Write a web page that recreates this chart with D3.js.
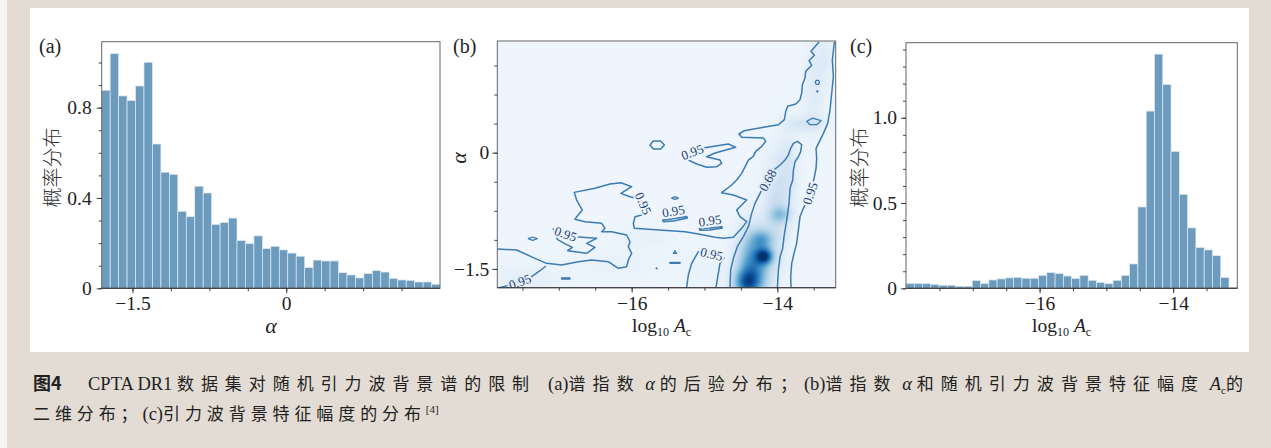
<!DOCTYPE html>
<html><head><meta charset="utf-8">
<script src="https://cdn.jsdelivr.net/npm/d3@7"></script>
<style>
html,body{margin:0;padding:0;background:#e2dcd5;}
svg{display:block;}
</style></head><body>
<svg id="fig" width="1271" height="448"></svg>
<script>
// ---------------- data ----------------
// (a) posterior of the spectral index alpha: 40 equal bins over alphaRange
const alphaRange = [-1.8, 1.5];
const alphaDensity = [0.877,1.039,0.852,0.831,0.896,1.001,0.639,0.514,0.505,0.341,
  0.317,0.452,0.422,0.283,0.292,0.311,0.211,0.198,0.232,0.176,
  0.186,0.170,0.156,0.142,0.092,0.125,0.121,0.121,0.069,0.059,
  0.046,0.065,0.078,0.072,0.044,0.037,0.035,0.028,0.028,0.018];
const alphaTicks = [-1.5, 0];
const alphaTickLabels = ["\u22121.5", "0"];
const alphaMinor = [-1.5,-1.125,-0.75,-0.375,0,0.375,0.75,1.125];
const densATicks = [0, 0.4, 0.8];
const densATickLabels = ["0", "0.4", "0.8"];
const densAMinor = [0,0.1,0.2,0.3,0.4,0.5,0.6,0.7,0.8,0.9,1.0];

// (c) posterior of log10 A_c: 40 equal bins over ampRange
const ampRange = [-18.0, -13.04];
const ampDensity = [0.029,0.029,0.027,0.023,0.018,0.018,0.012,0.012,0.045,0.029,
  0.049,0.055,0.061,0.064,0.059,0.059,0.076,0.092,0.086,0.072,
  0.057,0.076,0.047,0.035,0.027,0.047,0.076,0.143,0.477,1.039,
  1.373,1.195,0.803,0.551,0.354,0.240,0.225,0.191,0.063,0.004];
const ampTicks = [-16, -14];
const ampTickLabels = ["\u221216", "\u221214"];
const ampMinor = [-17.5,-17,-16.5,-16,-15.5,-15,-14.5,-14,-13.5];
const densCTicks = [0, 0.5, 1.0];
const densCTickLabels = ["0", "0.5", "1.0"];
const densCMinor = [0,0.1,0.2,0.3,0.4,0.5,0.6,0.7,0.8,0.9,1.0,1.1,1.2,1.3,1.4];

// (b) joint posterior: density concentrations [log10 A_c, alpha, spreadX, spreadY, weight]
const jointPeaks = [
  [-14.18,-1.34,0.08,0.07,0.70],
  [-14.33,-1.45,0.15,0.30,0.62],
  [-14.43,-1.68,0.12,0.12,0.55],
  [-14.21,-1.12,0.10,0.08,0.30],
  [-13.96,-0.80,0.10,0.07,0.25],
  [-14.02,-0.75,0.12,0.45,0.18],
  [-13.85,-0.20,0.10,0.35,0.10],
  [-13.62, 0.37,0.18,0.07,0.12],
  [-13.50, 0.80,0.10,0.40,0.08],
  [-13.35, 1.25,0.10,0.25,0.07],
  [-17.50,-1.65,0.40,0.15,0.05],
  [-16.20,-1.45,0.40,0.15,0.03],
  [-15.80,-1.10,0.25,0.10,0.035],
  [-15.00,-1.50,0.20,0.20,0.03]
];
const ampTicksB = [-16, -14];
const alphaTicksB = [0, -1.5];
const alphaTickLabelsB = ["0", "\u22121.5"];
const ampMinorB = [-17.5,-17,-16.5,-16,-15.5,-15,-14.5,-14,-13.5];
const alphaMinorB = [-1.5,-1.125,-0.75,-0.375,0,0.375,0.75,1.125];

// credible-region contours (log10 A_c, alpha)
const c95Main = [[-13.427,1.428],[-13.537,1.308],[-13.491,1.256],[-13.564,1.187],[-13.527,1.127],
  [-13.610,1.049],[-13.619,0.963],[-13.656,0.877],[-13.665,0.770],[-13.688,0.684],[-13.747,0.628],
  [-13.857,0.598],[-13.885,0.525],[-13.903,0.426],[-13.985,0.361],[-14.146,0.335],[-14.306,0.310],
  [-14.452,0.284],[-14.526,0.241],[-14.489,0.198],[-14.191,0.189],[-14.159,0.146],[-14.214,0.082],
  [-14.297,0.017],[-14.329,-0.047],[-14.397,-0.095],[-14.489,-0.267],[-14.558,-0.353],[-14.626,-0.417],
  [-14.764,-0.516],[-14.603,-0.546],[-14.420,-0.611],[-14.558,-0.740],[-14.512,-0.826],[-14.420,-0.890],
  [-14.489,-0.976],[-14.603,-1.092],[-14.741,-1.105],[-14.855,-1.092],[-15.084,-1.049],[-15.267,-1.019],
  [-15.473,-1.006],[-15.771,-0.989],[-15.963,-0.976],[-15.977,-0.912],[-15.954,-0.826],[-15.863,-0.804],
  [-15.831,-0.718],[-15.886,-0.602],[-16.023,-0.568],[-16.147,-0.525],[-16.000,-0.439],[-16.147,-0.387],
  [-16.298,-0.404],[-16.504,-0.460],[-16.788,-0.512],[-16.755,-0.611],[-16.678,-0.740],[-16.755,-0.826],
  [-16.778,-0.860],[-16.641,-0.890],[-16.412,-0.912],[-16.366,-0.976],[-16.412,-1.019],[-16.275,-1.019],
  [-16.069,-1.062],[-16.023,-1.148],[-16.046,-1.213],[-16.000,-1.299],[-16.046,-1.385],[-16.069,-1.471],
  [-16.183,-1.492],[-16.321,-1.406],[-16.549,-1.385],[-16.733,-1.406],[-16.962,-1.449],[-17.168,-1.428],
  [-17.328,-1.363],[-17.580,-1.256],[-17.845,-1.243]];
const c95Right = [[-13.216,1.428],[-13.244,1.196],[-13.230,0.981],[-13.253,0.766],[-13.276,0.551],
  [-13.308,0.378],[-13.367,0.249],[-13.422,0.142],[-13.468,0.056],[-13.459,-0.073],[-13.468,-0.202],
  [-13.495,-0.331],[-13.527,-0.439],[-13.596,-0.632],[-13.642,-0.718],[-13.688,-0.826],[-13.711,-0.998],
  [-13.734,-1.170],[-13.770,-1.299],[-13.802,-1.428],[-13.816,-1.600],[-13.811,-1.742]];
const c95Lower = [[-15.245,-1.742],[-15.222,-1.578],[-15.176,-1.428],[-15.084,-1.277],[-14.732,-1.359],
  [-14.787,-1.428],[-14.810,-1.557],[-14.842,-1.742]];
const c95Corner = [[-17.818,-1.742],[-17.694,-1.712],[-17.387,-1.609],[-17.259,-1.523],[-17.177,-1.462]];
const c95Zigzag = [[-17.076,-0.985],[-16.778,-1.084],[-16.481,-1.105],[-16.618,-1.170],[-16.504,-1.222],
  [-16.618,-1.299],[-16.879,-1.265],[-16.815,-1.222],[-16.925,-1.170],[-17.021,-1.118]];
const c95Chevron = [[-15.016,0.060],[-14.672,0.112],[-14.571,0.069],[-14.855,-0.004],[-14.970,-0.052],
  [-14.787,-0.095],[-14.764,-0.138],[-14.832,-0.181],[-14.970,-0.189],[-15.107,-0.146],[-15.222,-0.095],
  [-15.313,-0.043]];
const c95Hexagon = [[-15.748,0.099],[-15.702,0.151],[-15.602,0.151],[-15.551,0.099],[-15.602,0.047],[-15.702,0.047]];
const c95IslandA = [[-15.574,-0.869],[-15.428,-0.852],[-15.245,-0.822],[-15.235,-0.843],[-15.405,-0.877],[-15.565,-0.890]];
const c95IslandB = [[-15.071,-0.981],[-14.924,-0.972],[-14.764,-0.951],[-14.755,-0.972],[-14.924,-0.998],[-15.061,-1.002]];
const c95Small = [
  [[-15.451,-0.585],[-15.405,-0.568],[-15.359,-0.585],[-15.405,-0.602]],
  [[-15.428,-1.299],[-15.405,-1.265],[-15.382,-1.299]],
  [[-15.473,-1.415],[-15.336,-1.415],[-15.336,-1.428],[-15.473,-1.428]],
  [[-15.665,-1.495],[-15.657,-1.486],[-15.649,-1.495]],
  [[-17.419,-1.110],[-17.360,-1.088],[-17.296,-1.110],[-17.360,-1.131]],
  [[-16.962,-1.617],[-16.847,-1.617],[-16.847,-1.630],[-16.962,-1.630]],
  [[-13.480,0.908],[-13.465,0.934],[-13.435,0.934],[-13.420,0.908],[-13.435,0.882],[-13.465,0.882]],
  [[-13.458,0.791],[-13.450,0.800],[-13.442,0.791],[-13.450,0.782]],
  [[-13.596,0.404],[-13.514,0.447],[-13.399,0.413],[-13.459,0.361],[-13.550,0.361]]
];
const c68Inner = [[-14.649,-1.742],[-14.640,-1.514],[-14.603,-1.363],[-14.549,-1.213],[-14.466,-1.084],
  [-14.397,-0.955],[-14.352,-0.783],[-14.306,-0.654],[-14.237,-0.525],[-14.191,-0.439],[-14.077,-0.245],
  [-13.962,-0.159],[-13.894,-0.095],[-13.848,-0.030],[-13.816,0.056],[-13.779,0.120],[-13.724,0.146],
  [-13.665,0.103],[-13.679,0.013],[-13.711,-0.052],[-13.756,-0.116],[-13.779,-0.224],[-13.788,-0.353],
  [-13.825,-0.460],[-13.839,-0.654],[-13.871,-0.869],[-13.908,-1.084],[-13.926,-1.234],[-13.962,-1.342],
  [-13.985,-1.514],[-13.999,-1.742]];
const contourLabels = [
  ["0.95", "main",    -15.840, -0.654],
  ["0.95", "chevron", -15.167,  0.009],
  ["0.95", "lower",   -14.901, -1.308],
  ["0.95", "corner",  -17.534, -1.665],
  ["0.95", "zigzag",  -16.907, -1.049],
  ["0.95", "islandA", -15.428, -0.753],
  ["0.95", "islandB", -14.924, -0.877],
  ["0.95", "right",   -13.550, -0.525],
  ["0.68", "inner",   -14.132, -0.353]
];

// ---------------- drawing ----------------
const serif = "'Liberation Serif','Times New Roman',serif";
const cjk = "'Noto Sans CJK SC','Noto Sans CJK JP',sans-serif";
const ink = "#222";
const barFill = "#6c9bbe";
const svg = d3.select("#fig");

svg.append("rect").attr("width",1271).attr("height",448).attr("fill","#e2dcd5");
svg.append("rect").attr("x",0).attr("y",0).attr("width",7).attr("height",448).attr("fill","#f6f4f1");
svg.append("rect").attr("x",30).attr("y",8).attr("width",1219).attr("height",344).attr("fill","#ffffff");

function styleAxis(g, labelled) {
  g.attr("font-family", null).attr("font-size", null);
  g.select(".domain").remove();
  g.selectAll(".tick line").attr("stroke", "#333").attr("stroke-width", 0.9);
  if (labelled) g.selectAll(".tick text").attr("font-family", serif).attr("font-size", 19.5).attr("fill", ink);
  else g.selectAll(".tick text").remove();
}

function frame(box) {
  svg.append("rect").attr("x",box.x0).attr("y",box.y0).attr("width",box.x1-box.x0).attr("height",box.y1-box.y0)
    .attr("fill","none").attr("stroke","#666").attr("stroke-width",1);
  svg.append("line").attr("x1",box.x0).attr("x2",box.x1).attr("y1",box.y1).attr("y2",box.y1)
    .attr("stroke","#333").attr("stroke-width",1.1);
}

function axesFor(box, x, y, spec) {
  const gx = svg.append("g").attr("transform", `translate(0,${box.y1})`);
  gx.append("g").call(d3.axisBottom(x).tickValues(spec.xMinor).tickSize(3).tickFormat(""))
    .call(g => styleAxis(g, false));
  gx.append("g").call(d3.axisBottom(x).tickValues(spec.xTicks).tickSize(5).tickPadding(3)
    .tickFormat((d, i) => spec.xLabels[i])).call(g => styleAxis(g, true));
  const gy = svg.append("g").attr("transform", `translate(${box.x0},0)`);
  gy.append("g").call(d3.axisLeft(y).tickValues(spec.yMinor).tickSize(3).tickFormat(""))
    .call(g => styleAxis(g, false));
  gy.append("g").call(d3.axisLeft(y).tickValues(spec.yTicks).tickSize(5).tickPadding(spec.yPad)
    .tickFormat((d, i) => spec.yLabels[i])).call(g => styleAxis(g, true));
}

function histogram(box, range, values, yMax) {
  const x = d3.scaleLinear().domain(range).range([box.x0, box.x1]);
  const y = d3.scaleLinear().domain([0, yMax]).range([box.y1, box.y0]);
  const n = values.length, w = (range[1] - range[0]) / n;
  svg.append("g").selectAll("rect").data(values).join("rect")
    .attr("x", (d, i) => x(range[0] + i * w))
    .attr("width", (d, i) => x(range[0] + (i + 1) * w) - x(range[0] + i * w))
    .attr("y", d => y(d))
    .attr("height", d => y(0) - y(d))
    .attr("fill", barFill)
    .attr("stroke", "#dde9f2").attr("stroke-width", 0.7);
  return {x, y};
}

function panelTag(txt, px, py) {
  svg.append("text").attr("x", px).attr("y", py).attr("font-family", serif)
    .attr("font-size", 20).attr("fill", ink).text(txt);
}

function cjkYLabel(cx, cy) {
  svg.append("text").attr("transform", `translate(${cx},${cy}) rotate(-90)`)
    .attr("text-anchor", "middle").attr("dominant-baseline", "central")
    .attr("font-family", cjk).attr("font-weight", 300).attr("font-size", 20).attr("fill", "#333").text("概率分布");
}

function logAcLabel(px, py) {
  const t = svg.append("text").attr("x", px).attr("y", py).attr("font-family", serif)
    .attr("font-size", 19.5).attr("fill", ink);
  t.append("tspan").text("log");
  t.append("tspan").attr("font-size", 12).attr("dy", 4).text("10");
  t.append("tspan").attr("dy", -4).attr("dx", 5).attr("font-style", "italic").text("A");
  t.append("tspan").attr("font-size", 12).attr("dy", 4).text("c");
}

// ---- (a) ----
const boxA = {x0: 101.7, x1: 440, y0: 41.7, y1: 288.3};
const sa = histogram(boxA, alphaRange, alphaDensity, 1.092);
frame(boxA);
axesFor(boxA, sa.x, sa.y, {xTicks: alphaTicks, xLabels: alphaTickLabels, xMinor: alphaMinor.filter(v => v > alphaRange[0] && v < alphaRange[1] - 0.01),
  yTicks: densATicks, yLabels: densATickLabels, yMinor: densAMinor, yPad: 5});
panelTag("(a)", 39, 53);
cjkYLabel(51.7, 167.5);
svg.append("text").attr("x", 271).attr("y", 333).attr("text-anchor", "middle").attr("font-family", serif)
  .attr("font-style", "italic").attr("font-size", 22).attr("fill", ink).text("α");

// ---- (c) ----
const boxC = {x0: 906, x1: 1237.3, y0: 42.7, y1: 288.3};
const sc = histogram(boxC, ampRange, ampDensity, 1.44);
frame(boxC);
axesFor(boxC, sc.x, sc.y, {xTicks: ampTicks, xLabels: ampTickLabels, xMinor: ampMinor,
  yTicks: densCTicks, yLabels: densCTickLabels, yMinor: densCMinor, yPad: 4});
panelTag("(c)", 850, 53);
cjkYLabel(858.3, 167.5);
logAcLabel(1032, 331.5);

// ---- (b) ----
const boxB = {x0: 497.3, x1: 835.7, y0: 41, y1: 287.7};
const xB = d3.scaleLinear().domain([-17.845, -13.198]).range([boxB.x0, boxB.x1]);
const yB = d3.scaleLinear().domain([-1.742, 1.441]).range([boxB.y1, boxB.y0]);

function jointDensity(a, b) {
  let s = 0;
  for (const [px, py, sx, sy, w] of jointPeaks) {
    const dx = (a - px) / sx, dy = (b - py) / sy;
    s += w * Math.exp(-0.5 * (dx * dx + dy * dy));
  }
  return s;
}
const shade = v => d3.interpolateBlues(0.045 + 0.955 * Math.min(1, v));

// density image
const cw = Math.round(boxB.x1 - boxB.x0), ch = Math.round(boxB.y1 - boxB.y0);
const canvas = document.createElement("canvas");
canvas.width = cw; canvas.height = ch;
const ctx = canvas.getContext("2d");
const img = ctx.createImageData(cw, ch);
for (let j = 0; j < ch; j++) {
  const b = yB.invert(boxB.y0 + j + 0.5);
  for (let i = 0; i < cw; i++) {
    const a = xB.invert(boxB.x0 + i + 0.5);
    const c = d3.rgb(shade(jointDensity(a, b)));
    const k = 4 * (j * cw + i);
    img.data[k] = c.r; img.data[k + 1] = c.g; img.data[k + 2] = c.b; img.data[k + 3] = 255;
  }
}
ctx.putImageData(img, 0, 0);
svg.append("clipPath").attr("id", "clipB").append("rect")
  .attr("x", boxB.x0).attr("y", boxB.y0).attr("width", boxB.x1 - boxB.x0).attr("height", boxB.y1 - boxB.y0);
const gB = svg.append("g").attr("clip-path", "url(#clipB)");
gB.append("image").attr("x", boxB.x0).attr("y", boxB.y0).attr("width", boxB.x1 - boxB.x0)
  .attr("height", boxB.y1 - boxB.y0).attr("preserveAspectRatio", "none")
  .attr("href", canvas.toDataURL());

const lineColor = "#3d7bb3";
const openLine = d3.line().x(d => xB(d[0])).y(d => yB(d[1]));
const closedLine = d3.line().x(d => xB(d[0])).y(d => yB(d[1])).curve(d3.curveLinearClosed);
const openSets = {main: c95Main, right: c95Right, lower: c95Lower, corner: c95Corner, inner: c68Inner};
const closedSets = {zigzag: c95Zigzag, chevron: c95Chevron, hexagon: c95Hexagon, islandA: c95IslandA, islandB: c95IslandB};
for (const k in openSets) {
  gB.append("path").attr("d", openLine(openSets[k])).attr("fill", "none")
    .attr("stroke", lineColor).attr("stroke-width", 1.5).attr("stroke-linejoin", "round");
}
for (const k in closedSets) {
  gB.append("path").attr("d", closedLine(closedSets[k])).attr("fill", "none")
    .attr("stroke", lineColor).attr("stroke-width", 1.5).attr("stroke-linejoin", "round");
}
c95Small.forEach((pts, i) => {
  gB.append("path").attr("d", closedLine(pts)).attr("fill", i === 7 ? lineColor : "none")
    .attr("stroke", lineColor).attr("stroke-width", 1.3).attr("stroke-linejoin", "round");
});

// inline contour labels, rotated along the nearest segment
const allSets = Object.assign({}, openSets, closedSets);
contourLabels.forEach(([txt, key, a, b]) => {
  const pts = allSets[key].map(d => [xB(d[0]), yB(d[1])]);
  const px = xB(a), py = yB(b);
  let best = Infinity, ang = 0;
  const segs = pts.length;
  for (let i = 0; i < segs; i++) {
    const p = pts[i], q = pts[(i + 1) % segs];
    if (i === segs - 1 && !(key in closedSets)) break;
    const vx = q[0] - p[0], vy = q[1] - p[1];
    const L2 = vx * vx + vy * vy;
    let t = L2 ? ((px - p[0]) * vx + (py - p[1]) * vy) / L2 : 0;
    t = Math.max(0, Math.min(1, t));
    const dx = p[0] + t * vx - px, dy = p[1] + t * vy - py;
    const dist = dx * dx + dy * dy;
    if (dist < best) { best = dist; ang = Math.atan2(vy, vx) * 180 / Math.PI; }
  }
  if (ang > 90) ang -= 180;
  if (ang < -90) ang += 180;
  gB.append("text").attr("transform", `translate(${px},${py}) rotate(${ang})`)
    .attr("text-anchor", "middle").attr("dominant-baseline", "central")
    .attr("font-family", serif).attr("font-size", 13).attr("fill", "#1d3f78")
    .attr("stroke", shade(jointDensity(a, b))).attr("stroke-width", 4).attr("paint-order", "stroke")
    .text(txt);
});

frame(boxB);
axesFor(boxB, xB, yB, {xTicks: ampTicksB, xLabels: ampTickLabels, xMinor: ampMinorB,
  yTicks: alphaTicksB, yLabels: alphaTickLabelsB, yMinor: alphaMinorB, yPad: 3});
panelTag("(b)", 453, 53);
svg.append("text").attr("transform", "translate(466,158) rotate(-90)").attr("text-anchor", "middle")
  .attr("font-family", serif).attr("font-style", "italic").attr("font-size", 22).attr("fill", ink).text("α");
logAcLabel(632, 331.5);

// ---- caption ----
const capInk = "#231f20";
// a caption run: [text, kind] with kind "h" (CJK), "l" (Latin), "i" (italic Latin), "s" (subscript), "p" (superscript)
function captionLine(x, y, runs, endX, baseSpacing) {
  const t = svg.append("text").attr("x", x).attr("y", y).attr("fill", capInk);
  let shift = 0;
  const cjkSpans = [];
  runs.forEach(([s, kind]) => {
    const sp = t.append("tspan").text(s);
    if (kind === "h") {
      sp.attr("font-family", cjk).attr("font-size", 17).attr("letter-spacing", baseSpacing);
      cjkSpans.push(sp);
    } else {
      sp.attr("font-family", serif).attr("font-size", kind === "s" || kind === "p" ? 11 : 18.5);
      if (kind === "i") sp.attr("font-style", "italic");
    }
    const want = kind === "s" ? 4 : kind === "p" ? -7 : 0;
    if (want !== shift) { sp.attr("dy", want - shift); shift = want; }
  });
  if (endX != null && cjkSpans.length) {
    const n = d3.sum(cjkSpans, sp => sp.text().length);
    const len = t.node().getComputedTextLength();
    const extra = (endX - x - len) / n;
    cjkSpans.forEach(sp => sp.attr("letter-spacing", baseSpacing + extra));
  }
  return t;
}
svg.append("text").attr("x", 33).attr("y", 390).attr("font-family", cjk).attr("font-weight", 700)
  .attr("font-size", 18).attr("fill", capInk).text("图4");
captionLine(88, 390, [["CPTA DR1 ", "l"], ["数据集对随机引力波背景谱的限制", "h"]], 536, 5);
captionLine(548, 390, [["(a)", "l"], ["谱指数", "h"], [" α ", "i"], ["的后验分布；", "h"], ["(b)", "l"],
  ["谱指数", "h"], [" α ", "i"], ["和随机引力波背景特征幅度", "h"], [" A", "i"], ["c", "s"], ["的", "h"]], 1250, 5);
captionLine(33, 420, [["二维分布；", "h"], ["(c)", "l"], ["引力波背景特征幅度的分布", "h"], ["[4]", "p"]], null, 4.9);
</script>
</body></html>
